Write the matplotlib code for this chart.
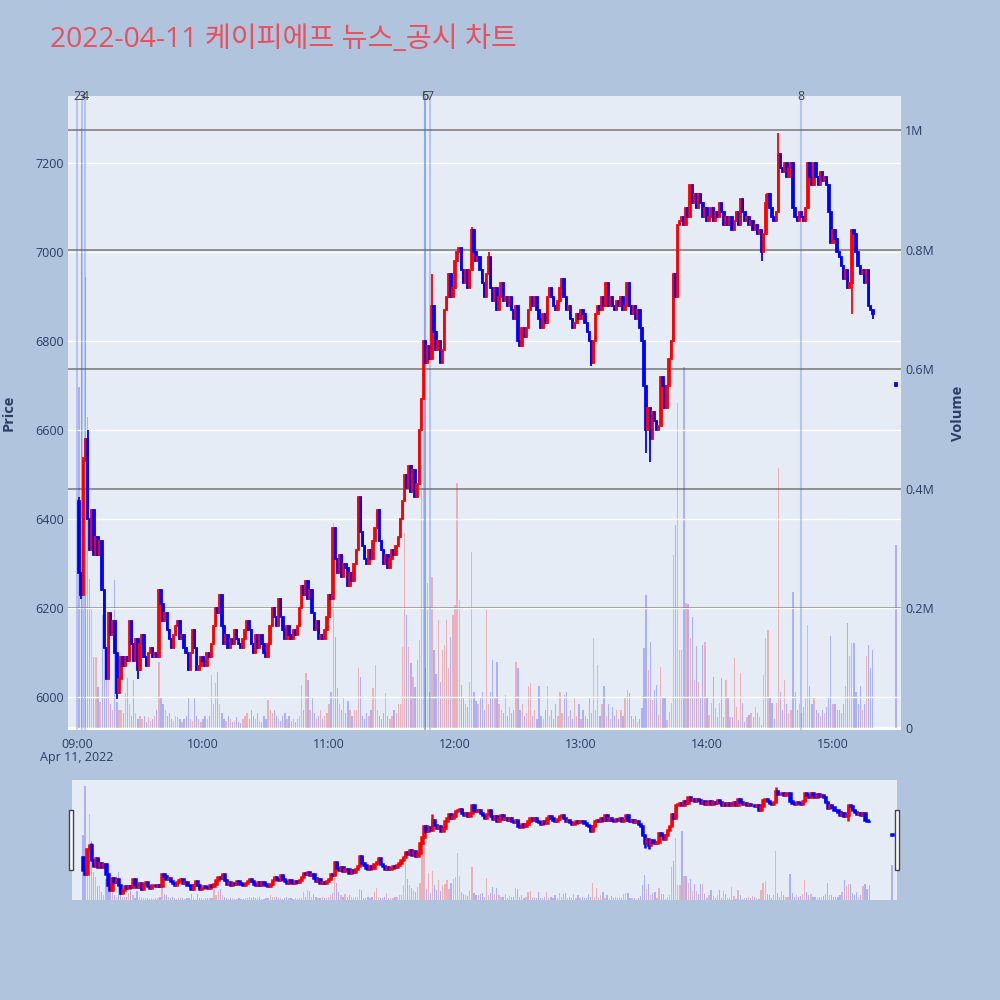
import numpy as np
import matplotlib.pyplot as plt
from matplotlib.patches import Rectangle

# one-minute candles, x = minutes after 09:00
first_open = 6440
closes = [
    6280, 6230, 6530, 6580, 6400, 6330, 6420, 6320, 6360, 6320,
    6350, 6240, 6110, 6040, 6190, 6140, 6170, 6100, 6010, 6040,
    6090, 6070, 6090, 6080, 6170, 6120, 6080, 6130, 6060, 6120,
    6140, 6090, 6070, 6100, 6110, 6090, 6100, 6090, 6240, 6210,
    6170, 6190, 6150, 6130, 6110, 6140, 6160, 6170, 6130, 6140,
    6110, 6100, 6060, 6100, 6150, 6110, 6060, 6070, 6090, 6080,
    6070, 6100, 6090, 6120, 6160, 6200, 6190, 6230, 6160, 6120,
    6140, 6110, 6130, 6120, 6150, 6130, 6120, 6110, 6130, 6150,
    6170, 6150, 6120, 6100, 6140, 6110, 6140, 6120, 6100, 6090,
    6120, 6160, 6200, 6180, 6160, 6220, 6180, 6150, 6130, 6160,
    6140, 6130, 6150, 6140, 6160, 6200, 6250, 6230, 6260, 6220,
    6240, 6190, 6150, 6170, 6130, 6140, 6130, 6150, 6180, 6230,
    6220, 6380, 6310, 6280, 6320, 6270, 6300, 6290, 6250, 6280,
    6260, 6300, 6330, 6450, 6370, 6340, 6310, 6300, 6330, 6310,
    6350, 6380, 6420, 6350, 6330, 6300, 6320, 6290, 6310, 6330,
    6320, 6340, 6360, 6400, 6440, 6500, 6470, 6520, 6460, 6510,
    6450, 6480, 6600, 6670, 6800, 6750, 6790, 6760, 6880, 6820,
    6780, 6800, 6750, 6780, 6870, 6900, 6950, 6900, 6920, 6980,
    7000, 7010, 6960, 6930, 6960, 6920, 6960, 7050, 7000, 6980,
    6990, 6960, 6930, 6900, 6950, 6990, 6920, 6890, 6920, 6870,
    6900, 6930, 6890, 6900, 6880, 6900, 6870, 6850, 6880, 6800,
    6790, 6830, 6810, 6830, 6870, 6900, 6880, 6900, 6870, 6850,
    6830, 6860, 6840, 6900, 6920, 6900, 6880, 6870, 6890, 6920,
    6940, 6900, 6870, 6880, 6850, 6830, 6840, 6860, 6850, 6870,
    6860, 6840, 6820, 6800, 6750, 6800, 6860, 6880, 6870, 6900,
    6880, 6930, 6880, 6900, 6880, 6870, 6890, 6880, 6900, 6870,
    6880, 6930, 6880, 6860, 6880, 6850, 6870, 6830, 6800, 6700,
    6600, 6650, 6580, 6640, 6620, 6600, 6610, 6720, 6700, 6650,
    6700, 6760, 6800, 6950, 6900, 7060, 7070, 7080, 7060, 7100,
    7080, 7150, 7110, 7130, 7100, 7130, 7110, 7080, 7100, 7070,
    7080, 7100, 7070, 7090, 7080, 7110, 7090, 7060, 7080, 7060,
    7080, 7050, 7070, 7090, 7060, 7120, 7090, 7070, 7080, 7060,
    7070, 7050, 7060, 7040, 7050, 7000, 7040, 7110, 7130, 7100,
    7080, 7070, 7090, 7220, 7190, 7180, 7200, 7170, 7190, 7200,
    7100, 7080, 7070, 7090, 7080, 7070, 7100, 7200, 7170, 7150,
    7200, 7170, 7150, 7180, 7160, 7170, 7150, 7090, 7020, 7050,
    7030, 7000, 6990, 6970, 6940, 6960, 6920, 6930, 7050, 7040,
    7000, 6970, 6950, 6960, 6930, 6960, 6880, 6870, 6860,
]
# volume in thousands of shares
volumes_k = [
    570, 1004, 300, 754, 520, 250, 200, 119, 119, 69,
    43, 189, 180, 97, 100, 40, 30, 247, 43, 30,
    30, 25, 58, 83, 40, 20, 80, 25, 15, 20,
    15, 20, 10, 18, 12, 15, 20, 30, 110, 50,
    40, 30, 20, 25, 15, 12, 20, 18, 15, 10,
    15, 20, 50, 15, 12, 50, 20, 15, 10, 15,
    20, 15, 20, 88, 40, 75, 94, 40, 25, 15,
    12, 20, 15, 10, 12, 18, 10, 8, 15, 20,
    25, 15, 30, 20, 15, 25, 12, 10, 20, 15,
    47, 30, 25, 30, 20, 15, 12, 20, 25, 15,
    20, 12, 15, 10, 15, 20, 72, 30, 92, 80,
    30, 50, 25, 15, 20, 30, 15, 20, 25, 40,
    60, 343, 152, 67, 40, 30, 50, 25, 45, 30,
    20, 30, 30, 100, 85, 20, 15, 25, 20, 30,
    67, 105, 30, 20, 15, 25, 58, 20, 15, 20,
    30, 25, 40, 40, 135, 326, 189, 135, 108, 85,
    69, 114, 147, 440, 500, 100, 242, 60, 253, 130,
    90, 180, 77, 130, 139, 180, 100, 152, 189, 205,
    410, 214, 72, 52, 40, 35, 77, 294, 60, 45,
    40, 50, 60, 30, 197, 40, 60, 113, 50, 110,
    40, 30, 25, 55, 20, 35, 25, 30, 110, 100,
    30, 40, 20, 25, 70, 75, 20, 30, 15, 70,
    20, 15, 30, 70, 20, 30, 15, 40, 20, 60,
    25, 55, 60, 20, 30, 15, 50, 20, 40, 15,
    30, 20, 15, 50, 25, 150, 30, 105, 20, 40,
    70, 20, 40, 15, 35, 20, 30, 15, 30, 20,
    50, 64, 58, 20, 15, 20, 10, 15, 33, 134,
    222, 97, 144, 47, 64, 72, 22, 102, 50, 50,
    13, 27, 42, 290, 340, 543, 130, 130, 604, 209,
    207, 150, 186, 80, 137, 77, 52, 139, 144, 52,
    22, 42, 85, 33, 18, 42, 84, 18, 80, 50,
    18, 18, 117, 35, 13, 92, 42, 10, 18, 22,
    25, 18, 35, 25, 18, 5, 88, 150, 164, 52,
    42, 15, 42, 435, 60, 30, 80, 40, 25, 30,
    227, 60, 30, 40, 25, 35, 50, 172, 70, 40,
    50, 30, 25, 20, 30, 25, 35, 50, 154, 40,
    40, 30, 30, 25, 40, 70, 175, 120, 142, 142,
    60, 40, 70, 30, 40, 120, 139, 100, 130,
]
minutes = list(range(1, 380))

# closing auction print at 15:30
auction_minute = 390
auction_open = 6705
auction_close = 6700
auction_volume_k = 306

# visible wick extremes
wick_high = {1: 6450, 5: 6600, 3: 6540, 169: 6950, 188: 7056, 334: 7267, 196: 7000, 328: 7130}
wick_low = {2: 6220, 19: 5995, 29: 6040, 245: 6745, 271: 6548, 273: 6528, 326: 6980, 369: 6860, 379: 6850}

# news markers
news_minutes = [0.15, 2.4, 3.8, 165.7, 165.7, 168.1, 344.8]
news_labels = ['2', '3', '4', '5', '6', '7', '8']

tick_minutes = [0, 60, 120, 180, 240, 300, 360]
tick_labels = ['09:00', '10:00', '11:00', '12:00', '13:00', '14:00', '15:00']
price_ticks = [6000, 6200, 6400, 6600, 6800, 7000, 7200]
volume_ticks = [0, 200000, 400000, 600000, 800000, 1000000]
volume_tick_labels = ['0', '0.2M', '0.4M', '0.6M', '0.8M', '1M']

plt.rcParams['font.family'] = ['Open Sans', 'Noto Sans CJK KR', 'DejaVu Sans']
TXT = '#2a3f5f'

x = np.array(minutes + [auction_minute], dtype=float)
c = np.array(closes + [auction_close], dtype=float)
o = np.array([first_open] + closes[:-1] + [auction_open], dtype=float)
v = np.array(volumes_k + [auction_volume_k], dtype=float) * 1000
hi = np.maximum(o, c)
lo = np.minimum(o, c)
for m, p in wick_high.items():
    hi[minutes.index(m)] = max(hi[minutes.index(m)], p)
for m, p in wick_low.items():
    lo[minutes.index(m)] = min(lo[minutes.index(m)], p)
up = c >= o
candle_col = np.where(up, '#ff0000', '#0000ff')
vol_col = [(1, 0, 0, 0.25) if u else (0, 0, 1, 0.25) for u in up]

xlim = (-4.3, 392.4)
plim = (5926, 7351)
vlim = (-3300, 1057000)


def draw_candles(ax, lw):
    ax.vlines(x, lo, hi, colors=candle_col, linewidth=lw, zorder=3)
    ax.bar(x, np.abs(c - o), bottom=np.minimum(o, c), width=0.7,
           color=candle_col, edgecolor=candle_col, linewidth=lw, zorder=3)


fig = plt.figure(figsize=(10, 10), dpi=100)
fig.patch.set_facecolor('#b0c4de')

# main panel: volume behind, price on the twin
ax_vol = fig.add_axes([0.068, 0.270, 0.833, 0.634])
ax_vol.set_facecolor('#e5ecf6')
ax_price = ax_vol.twinx()

ax_vol.bar(x, v, width=0.6, color=vol_col, linewidth=0, zorder=2)
ax_vol.set_ylim(*vlim)
ax_vol.set_xlim(*xlim)
for t in volume_ticks[1:]:
    ax_vol.axhline(t, color='#888888', linewidth=1.3, zorder=1)
ax_vol.axhline(0, color='white', linewidth=2, zorder=1)
ax_vol.yaxis.tick_right()
ax_vol.yaxis.set_label_position('right')
ax_vol.set_yticks(volume_ticks, volume_tick_labels)
ax_vol.set_ylabel('Volume', color=TXT, fontsize=10.5, fontweight='bold', labelpad=12)
ax_vol.set_xticks(tick_minutes, tick_labels)
ax_vol.tick_params(length=0, labelsize=9, labelcolor=TXT, pad=3)
ax_vol.tick_params(axis='x', pad=6)
for s in ax_vol.spines.values():
    s.set_visible(False)

ax_price.yaxis.tick_left()
ax_price.yaxis.set_label_position('left')
ax_price.set_ylim(*plim)
ax_price.set_xlim(*xlim)
for p in price_ticks:
    ax_price.axhline(p, color='white', linewidth=1, zorder=0)
for m in news_minutes:
    ax_price.axvline(m, color='royalblue', alpha=0.3, linewidth=1.5, zorder=1)
draw_candles(ax_price, 1.3)
ax_price.set_yticks(price_ticks)
ax_price.set_ylabel('Price', color=TXT, fontsize=10.5, fontweight='bold', labelpad=14)
ax_price.tick_params(length=0, labelsize=9, labelcolor=TXT, pad=3)
for s in ax_price.spines.values():
    s.set_visible(False)
for m, lab in zip(news_minutes, news_labels):
    ax_price.text(m, 1.0, lab, transform=ax_price.get_xaxis_transform(), ha='center', va='center',
                  fontsize=9, color='#444444', clip_on=False)

fig.text(0.077, 0.243, 'Apr 11, 2022', ha='center', va='center', fontsize=9, color=TXT)

# range slider
ax_rs = fig.add_axes([0.072, 0.100, 0.825, 0.120])
ax_rs.set_facecolor('#e5ecf6')
ax_rs_p = ax_rs.twinx()
ax_rs.bar(x, v, width=0.6, color=vol_col, linewidth=0)
ax_rs.set_ylim(0, vlim[1])
ax_rs.set_xlim(*xlim)
ax_rs.set_xticks([])
ax_rs.set_yticks([])
for s in ax_rs.spines.values():
    s.set_visible(False)
draw_candles(ax_rs_p, 1.8)
ax_rs_p.set_ylim(*plim)
ax_rs_p.set_xlim(*xlim)
ax_rs_p.set_yticks([])
for s in ax_rs_p.spines.values():
    s.set_visible(False)
for hx in (0.069, 0.895):
    fig.patches.append(Rectangle((hx, 0.130), 0.004, 0.060, transform=fig.transFigure,
                                 facecolor='white', edgecolor='#444444', linewidth=1))

fig.text(0.05, 0.960, '2022-04-11 케이피에프 뉴스_공시 차트', ha='left', va='center',
         fontsize=20.3, color='#e8505b', family=['Open Sans', 'Noto Sans CJK KR', 'DejaVu Sans'])

plt.savefig('out.png', dpi=100, facecolor=fig.get_facecolor())
